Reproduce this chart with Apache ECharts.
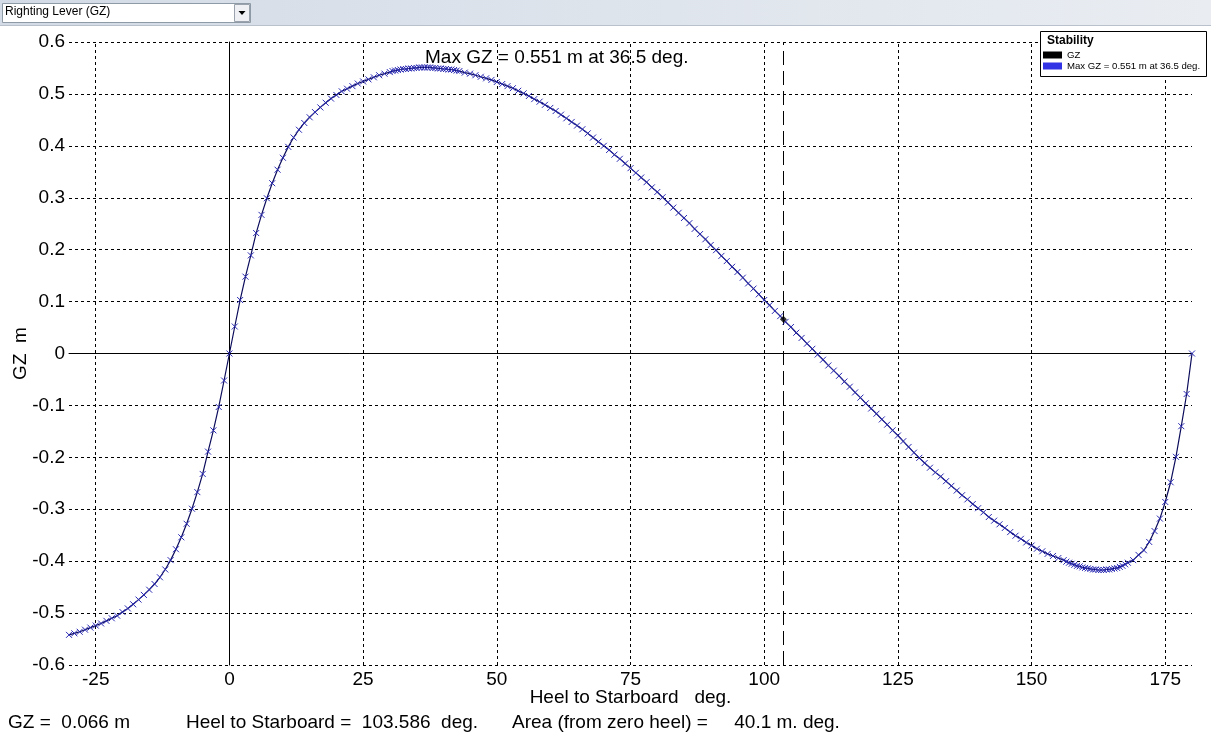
<!DOCTYPE html>
<html>
<head>
<meta charset="utf-8">
<script src="https://cdn.jsdelivr.net/npm/echarts@6/dist/echarts.min.js"></script>
<style>
html,body{margin:0;padding:0;background:#fff;}
#chart{width:1211px;height:739px;}
</style>
</head>
<body>
<div id="chart"></div>
<script>
// Heel angles (deg) and righting lever GZ (m)
var heel = [
 -30,-29,-28,-27,-26,-25,-24,-23,-22,-21,-20,-19,-18,-17,-16,-15,-14,-13,-12,-11,-10,-9,-8,-7,-6,-5,-4,-3,-2,-1,
 0,1,2,3,4,5,6,7,8,9,10,11,12,13,14,15,16,17,18,19,20,21,22,23,24,25,26,27,28,29,30,
 30.5,31,31.5,32,32.5,33,33.5,34,34.5,35,35.5,36,36.5,37,37.5,38,38.5,39,39.5,40,40.5,41,41.5,42,42.5,
 43,44,45,46,47,48,49,50,51,52,53,54,55,56,57,58,59,60,61,62,63,64,65,66,67,68,69,70,
 71,72,73,74,75,76,77,78,79,80,81,82,83,84,85,86,87,88,89,90,91,92,93,94,95,96,97,98,99,100,
 101,102,103,104,105,106,107,108,109,110,111,112,113,114,115,116,117,118,119,120,121,122,123,124,125,
 126,127,128,129,130,131,132,133,134,135,136,137,138,139,140,141,142,143,144,145,146,147,148,149,150,
 151,152,153,154,155,156,156.5,157,157.5,158,158.5,159,159.5,160,160.5,161,161.5,162,162.5,163,163.5,
 164,164.5,165,165.5,166,166.5,167,167.5,168,169,170,171,172,173,174,175,176,177,178,179,180
];
var gz = [
 -0.542,-0.539,-0.536,-0.532,-0.528,-0.524,-0.520,-0.515,-0.510,-0.505,-0.498,-0.491,-0.483,-0.474,-0.465,-0.455,-0.444,-0.431,-0.416,-0.398,-0.377,-0.354,-0.328,-0.299,-0.267,-0.232,-0.189,-0.148,-0.103,-0.052,
 0,0.052,0.103,0.148,0.189,0.232,0.267,0.299,0.328,0.354,0.377,0.398,0.416,0.431,0.444,0.455,0.465,0.474,0.483,0.491,0.498,0.505,0.510,0.515,0.520,0.524,0.528,0.532,0.536,0.539,0.542,
 0.544,0.545,0.546,0.547,0.548,0.548,0.549,0.549,0.550,0.550,0.551,0.551,0.551,0.551,0.551,0.550,0.550,0.549,0.549,0.548,0.548,0.547,0.547,0.546,0.545,
 0.544,0.541,0.539,0.536,0.533,0.530,0.527,0.523,0.519,0.515,0.511,0.506,0.501,0.496,0.490,0.485,0.479,0.473,0.467,0.460,0.453,0.446,0.439,0.432,0.424,0.416,0.408,0.400,
 0.392,0.383,0.375,0.366,0.357,0.348,0.339,0.330,0.320,0.311,0.301,0.291,0.281,0.271,0.261,0.251,0.240,0.230,0.220,0.209,0.199,0.188,0.178,0.167,0.157,0.146,0.135,0.125,0.114,0.103,
 0.093,0.082,0.072,0.061,0.051,0.040,0.030,0.019,0.009,-0.002,-0.012,-0.023,-0.033,-0.043,-0.054,-0.064,-0.075,-0.085,-0.096,-0.106,-0.116,-0.127,-0.137,-0.148,-0.158,
 -0.169,-0.180,-0.191,-0.201,-0.211,-0.220,-0.229,-0.237,-0.246,-0.255,-0.264,-0.273,-0.281,-0.290,-0.298,-0.306,-0.315,-0.322,-0.329,-0.336,-0.344,-0.351,-0.357,-0.364,-0.370,
 -0.376,-0.381,-0.386,-0.390,-0.394,-0.398,-0.401,-0.403,-0.405,-0.407,-0.409,-0.410,-0.412,-0.413,-0.414,-0.415,-0.416,-0.416,-0.417,-0.417,-0.417,
 -0.416,-0.416,-0.415,-0.414,-0.413,-0.411,-0.409,-0.406,-0.403,-0.398,-0.388,-0.379,-0.363,-0.342,-0.318,-0.286,-0.248,-0.199,-0.140,-0.078,0
];
var xTicks = [-25, 0, 25, 50, 75, 100, 125, 150, 175];
var cursorHeel = 103.586;
var cursorGZ = 0.066;
var maxText = 'Max GZ = 0.551 m at 36.5 deg.';
var statusGZ = 'GZ =  0.066 m';
var statusHeel = 'Heel to Starboard =  103.586  deg.';
var statusArea = 'Area (from zero heel) =     40.1 m. deg.';

var FONT = '"Liberation Sans", Arial, sans-serif';
var curve = heel.map(function (h, i) { return [h, gz[i]]; });

var gridLines = xTicks.filter(function (v) { return v !== 0; }).map(function (v) {
  return { xAxis: v, lineStyle: { type: [3, 3], color: '#000', width: 1 } };
});

var chart = echarts.init(document.getElementById('chart'), null, { renderer: 'canvas' });
chart.setOption({
  animation: false,
  backgroundColor: '#fff',
  textStyle: { fontFamily: FONT },
  grid: { left: 69, right: 19, top: 42, bottom: 74, containLabel: false, outerBoundsMode: 'none' },
  xAxis: {
    type: 'value', min: -30, max: 180,
    name: 'Heel to Starboard   deg.', nameLocation: 'middle', nameGap: 33, nameMoveOverlap: false,
    nameTextStyle: { fontSize: 19, color: '#000', fontFamily: FONT, verticalAlign: 'middle' },
    axisLine: { show: true, lineStyle: { color: '#000', width: 1 } },
    axisTick: { show: false },
    splitLine: { show: false },
    axisLabel: { customValues: xTicks, fontSize: 19, color: '#000', margin: 5, fontFamily: FONT, showMinLabel: true, showMaxLabel: true }
  },
  yAxis: {
    type: 'value', min: -0.6, max: 0.6, interval: 0.1,
    name: 'GZ  m', nameLocation: 'middle', nameGap: 39, nameRotate: 90, nameMoveOverlap: false,
    nameTextStyle: { fontSize: 19, color: '#000', fontFamily: FONT },
    axisLine: { show: true, lineStyle: { color: '#000', width: 1 } },
    axisTick: { show: false },
    splitLine: { show: true, lineStyle: { type: [3, 3], color: '#000', width: 1 } },
    axisLabel: { fontSize: 19, color: '#000', margin: 4, fontFamily: FONT,
      formatter: function (v) { return String(Math.round(v * 10) / 10); } }
  },
  legend: {
    orient: 'vertical', left: 1043, top: 50, padding: 0, itemWidth: 19, itemHeight: 7, itemGap: 1,
    icon: 'rect', selectedMode: false, z: 60,
    textStyle: { fontSize: 9.6, color: '#000', fontFamily: FONT },
    data: [
      { name: 'GZ', itemStyle: { color: '#000', borderWidth: 0 } },
      { name: maxText, itemStyle: { color: '#0000e0', borderWidth: 0 } }
    ]
  },
  graphic: [
    { type: 'rect', left: 0, top: 0, shape: { width: 1211, height: 26 }, z: 100,
      style: { fill: new echarts.graphic.LinearGradient(0, 0, 1, 0, [{ offset: 0, color: '#d3dbe6' }, { offset: 1, color: '#e9edf2' }]) } },
    { type: 'rect', left: 0, top: 25, shape: { width: 1211, height: 1 }, z: 100, style: { fill: '#b9c2cc' } },
    { type: 'rect', left: 2, top: 3, shape: { width: 248, height: 19 }, z: 101, style: { fill: '#fff', stroke: '#8e9aa6', lineWidth: 1 } },
    { type: 'text', left: 5, top: 6, z: 102, style: { text: 'Righting Lever (GZ)', fontSize: 12, fill: '#000', fontFamily: FONT } },
    { type: 'rect', left: 234, top: 4, shape: { width: 15, height: 17 }, z: 102, style: { fill: '#eef0f3', stroke: '#9aa3ad', lineWidth: 1 } },
    { type: 'polygon', z: 103, shape: { points: [[238.5, 11], [245.5, 11], [242, 15]] }, style: { fill: '#000' } },
    { type: 'rect', left: 1040, top: 31, shape: { width: 166, height: 45 }, z: 50, style: { fill: '#fff', stroke: '#000', lineWidth: 1 } },
    { type: 'text', left: 1047, top: 35, z: 51, style: { text: 'Stability', fontSize: 12, fontWeight: 'bold', fill: '#000', fontFamily: FONT } },
    { type: 'text', left: 425, top: 48, z: 20, style: { text: maxText, fontSize: 19, fill: '#000', fontFamily: FONT } },
    { type: 'text', left: 8, top: 713, style: { text: statusGZ, fontSize: 19, fill: '#000', fontFamily: FONT } },
    { type: 'text', left: 186, top: 713, style: { text: statusHeel, fontSize: 19, fill: '#000', fontFamily: FONT } },
    { type: 'text', left: 512, top: 713, style: { text: statusArea, fontSize: 19, fill: '#000', fontFamily: FONT } }
  ],
  series: [
    {
      name: 'gridlines', type: 'line', data: [], z: 1, silent: true,
      markLine: {
        silent: true, symbol: ['none', 'none'], label: { show: false }, animation: false,
        data: gridLines.concat([
          { xAxis: 0, lineStyle: { type: 'solid', color: '#000', width: 1 } },
          { yAxis: 0, lineStyle: { type: 'solid', color: '#000', width: 1 } },
          { xAxis: cursorHeel, lineStyle: { type: [14, 6], color: '#000', width: 1 } }
        ])
      }
    },
    {
      name: 'GZ', type: 'line', data: curve, z: 5, silent: true,
      showSymbol: true, showAllSymbol: true,
      symbol: 'path://M0,0L10,10M10,0L0,10', symbolSize: 6,
      lineStyle: { color: '#0c0c5c', width: 1.2 },
      itemStyle: { color: 'rgba(0,0,0,0)', borderColor: '#2a2ab4', borderWidth: 1 },
      emphasis: { disabled: true }
    },
    {
      name: maxText, type: 'scatter', data: [], itemStyle: { color: '#0000e0' }
    },
    {
      name: 'cursor', type: 'scatter', z: 6, silent: true,
      data: [[cursorHeel, cursorGZ]], symbol: 'diamond', symbolSize: 7,
      itemStyle: { color: '#000' }
    }
  ]
});
</script>
</body>
</html>
